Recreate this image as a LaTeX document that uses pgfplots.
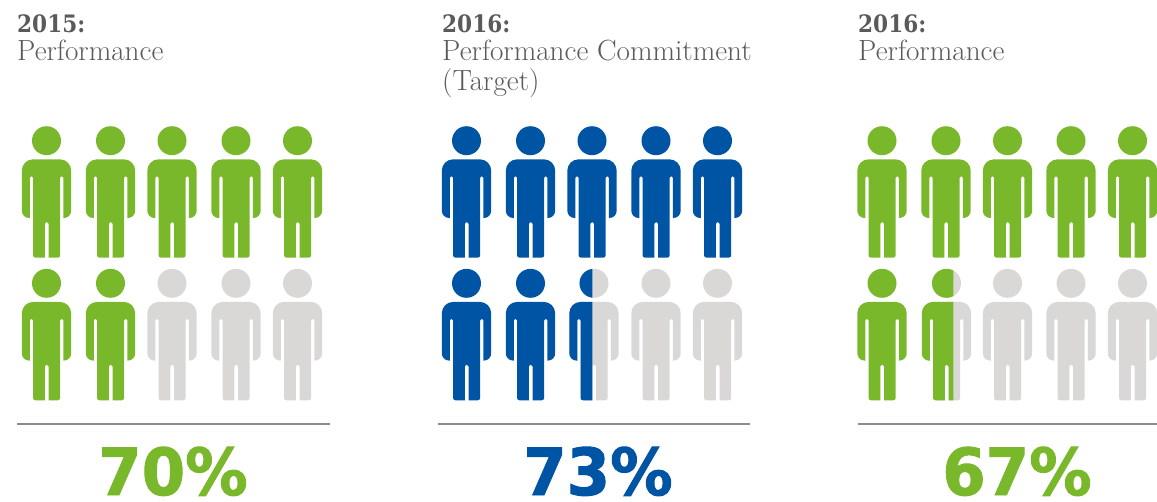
\documentclass[border=0pt]{standalone}
\usepackage{pgfplots}
\pgfplotsset{compat=1.18}
\usepackage{fontspec}
\newfontfamily\headfont{DejaVu Serif}
\newfontfamily\pctfont[BoldFeatures={FakeBold=1.5}]{DejaVu Sans}
\definecolor{pgreen}{HTML}{78B82A}
\definecolor{pblue}{HTML}{0054A4}
\definecolor{pgrey}{HTML}{D9D8D6}
\definecolor{ptext}{HTML}{5A5A5A}
\definecolor{prule}{HTML}{8C8C8C}
\newcommand{\personpath}{%
  (-24.7,-30) arc[start angle=180,end angle=90,radius=11.4] -- (13.3,-18.6)
  arc[start angle=90,end angle=0,radius=11.4] -- (24.7,-70)
  arc[start angle=0,end angle=-90,radius=7.3] -- (16.9,-77.3) -- (16.9,-37)
  arc[start angle=0,end angle=180,radius=1.6] -- (13.7,-114.5)
  arc[start angle=0,end angle=-90,radius=2.5] -- (2,-117) -- (2,-83)
  arc[start angle=0,end angle=180,radius=1.85] -- (-1.7,-117) -- (-11,-117)
  arc[start angle=-90,end angle=-180,radius=2.5] -- (-13.5,-37)
  arc[start angle=0,end angle=180,radius=1.6] -- (-16.7,-77.3) -- (-17.4,-77.3)
  arc[start angle=-90,end angle=-180,radius=7.3] -- cycle
  (14.5,0) arc[start angle=0,end angle=360,radius=14.5]}
\pgfdeclareplotmark{person}{\begin{scope}[x=1pt,y=1pt]\path[fill,draw=none] \personpath;\end{scope}}
\pgfdeclareplotmark{personA}{\begin{scope}[x=1pt,y=1pt]\path[clip,draw=none] (-40,20) rectangle (-1.7,-130);\path[fill,draw=none] \personpath;\end{scope}}
\pgfdeclareplotmark{personB}{\begin{scope}[x=1pt,y=1pt]\path[clip,draw=none] (-40,20) rectangle (6.8,-130);\path[fill,draw=none] \personpath;\end{scope}}
\newcommand{\headtxt}[4]{%
  \node[anchor=base west,inner sep=0pt,text=ptext,font={\headfont\bfseries\fontsize{24}{24}\selectfont}] at (axis cs:#1,32) {\scalebox{0.9}[1]{#2}};
  \node[anchor=base west,inner sep=0pt,text=ptext,font={\fontsize{29.2}{29.2}\selectfont}] at (axis cs:#1,60.5) {#3};
  \node[anchor=base west,inner sep=0pt,text=ptext,font={\fontsize{29.2}{29.2}\selectfont}] at (axis cs:#1,90) {#4};}
\newcommand{\pct}[3]{%
  \node[anchor=base,inner sep=0pt,text=#3,font={\pctfont\bfseries\fontsize{65}{65}\selectfont}] at (axis cs:#1,495) {\scalebox{0.96}[1]{#2}};}
\begin{document}
\begin{tikzpicture}
\begin{axis}[
  width=1157pt,height=501pt,scale only axis,hide axis,
  xmin=0,xmax=1157,ymin=0,ymax=501,y dir=reverse,clip=false]
% green persons, 2015
\addplot[only marks,mark=person,color=pgreen] coordinates {
 (46.5,140.7)(110.5,140.7)(172,140.7)(236,140.7)(297.5,140.7)
 (46.5,283.3)(110.5,283.3)};
\addplot[only marks,mark=person,color=pgrey] coordinates {
 (172,283.3)(236,283.3)(297.5,283.3)};
% blue persons, 2016 target
\addplot[only marks,mark=person,color=pblue] coordinates {
 (466.5,140.7)(530.5,140.7)(592,140.7)(656,140.7)(717.5,140.7)
 (466.5,283.3)(530.5,283.3)};
\addplot[only marks,mark=person,color=pgrey] coordinates {
 (594,283.3)(656,283.3)(717.5,283.3)};
\addplot[only marks,mark=personA,color=pblue] coordinates {(594,283.3)};
% green persons, 2016
\addplot[only marks,mark=person,color=pgreen] coordinates {
 (882,140.7)(946,140.7)(1007.5,140.7)(1071,140.7)(1132.5,140.7)
 (882,283.3)};
\addplot[only marks,mark=person,color=pgrey] coordinates {
 (946.5,283.3)(1007.5,283.3)(1071,283.3)(1132.5,283.3)};
\addplot[only marks,mark=personB,color=pgreen] coordinates {(946.5,283.3)};
% rules
\addplot[prule,line width=2.4pt] coordinates {(17,424)(330,424)};
\addplot[prule,line width=2.4pt] coordinates {(438,424)(750,424)};
\addplot[prule,line width=2.4pt] coordinates {(858,424)(1157,424)};
\headtxt{17}{2015:}{Performance}{}
\headtxt{442}{2016:}{Performance Commitment}{(Target)}
\headtxt{858}{2016:}{Performance}{}
\pct{173}{70\%}{pgreen}
\pct{598}{73\%}{pblue}
\pct{1017}{67\%}{pgreen}
\coordinate (BBa) at (axis cs:0,501);
\coordinate (BBb) at (axis cs:1157,0);
\end{axis}
\pgfresetboundingbox
\path[use as bounding box] (BBa) rectangle (BBb);
\end{tikzpicture}
\end{document}
